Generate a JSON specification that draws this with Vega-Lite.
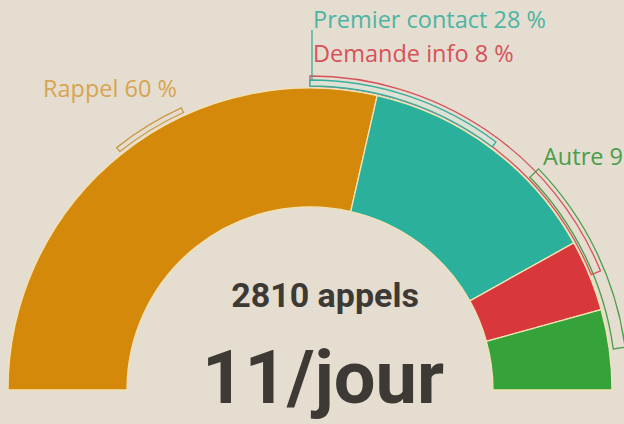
{
  "$schema": "https://vega.github.io/schema/vega-lite/v6.json",
  "width": 624,
  "height": 424,
  "autosize": "none",
  "padding": 0,
  "background": "#e5ddd0",
  "config": {"view": {"stroke": null}},
  "encoding": {
    "x": {"datum": 0, "type": "quantitative", "scale": {"domain": [-310, 314], "nice": false, "zero": false}, "axis": null},
    "y": {"datum": 0, "type": "quantitative", "scale": {"domain": [-34, 390], "nice": false, "zero": false}, "axis": null}
  },
  "layer": [
    {
      "data": {"values": [
        {"cat": "Rappel", "value": 60, "order": 1},
        {"cat": "Premier contact", "value": 28, "order": 2},
        {"cat": "Demande info", "value": 8, "order": 3},
        {"cat": "Autre", "value": 9, "order": 4}
      ]},
      "mark": {"type": "arc", "outerRadius": 302, "innerRadius": 183, "stroke": "#f3e2b4", "strokeWidth": 1.3},
      "encoding": {
        "theta": {"field": "value", "type": "quantitative", "stack": true, "scale": {"domain": [0, 105], "range": [-1.5708, 1.5708]}},
        "order": {"field": "order", "type": "quantitative"},
        "color": {"field": "cat", "type": "nominal", "legend": null,
          "scale": {"domain": ["Rappel", "Premier contact", "Demande info", "Autre"], "range": ["#d4890b", "#2bb09b", "#d8383c", "#36a23a"]}}
      }
    },
    {
      "data": {"values": [{"cat": "Autre", "start": 79.3, "end": 100.5}]},
      "mark": {"type": "arc", "outerRadius": 318, "innerRadius": 306, "fill": "transparent", "stroke": "#4a9e4a", "strokeWidth": 1.3, "clip": true},
      "encoding": {"theta": {"field": "start", "type": "quantitative"}, "theta2": {"field": "end"}}
    },
    {
      "data": {"values": [{"cat": "Demande info", "start": 52.5, "end": 92}]},
      "mark": {"type": "arc", "outerRadius": 314, "innerRadius": 304, "fill": "transparent", "stroke": "#d6525a", "strokeWidth": 1.3},
      "encoding": {"theta": {"field": "start", "type": "quantitative"}, "theta2": {"field": "end"}}
    },
    {
      "data": {"values": [{"cat": "Premier contact", "start": 52.5, "end": 74}]},
      "mark": {"type": "arc", "outerRadius": 310, "innerRadius": 304, "fill": "#dde2d4", "stroke": "#3aae9c", "strokeWidth": 1.3},
      "encoding": {"theta": {"field": "start", "type": "quantitative"}, "theta2": {"field": "end"}}
    },
    {
      "data": {"values": [{"cat": "Rappel", "start": 30, "end": 38.2}]},
      "mark": {"type": "arc", "outerRadius": 310, "innerRadius": 305, "fill": "transparent", "stroke": "#c99a45", "strokeWidth": 1.3},
      "encoding": {"theta": {"field": "start", "type": "quantitative"}, "theta2": {"field": "end"}}
    },
    {
      "data": {"values": [{"cat": "Premier contact"}]},
      "mark": {"type": "rule", "stroke": "#3aae9c", "strokeWidth": 1.3},
      "encoding": {"x": {"datum": 2, "type": "quantitative"}, "y": {"datum": 310, "type": "quantitative"}, "y2": {"datum": 360}}
    },
    {
      "data": {"values": [{"label": "Rappel 60 %"}]},
      "mark": {"type": "text", "align": "right", "baseline": "alphabetic", "font": "Open Sans", "fontSize": 23.5, "color": "#d6a552"},
      "encoding": {"x": {"datum": -133, "type": "quantitative"}, "y": {"datum": 293, "type": "quantitative"}, "text": {"field": "label"}}
    },
    {
      "data": {"values": [{"label": "Premier contact 28 %"}]},
      "mark": {"type": "text", "align": "left", "baseline": "alphabetic", "font": "Open Sans", "fontSize": 23.5, "color": "#4db4a4"},
      "encoding": {"x": {"datum": 3, "type": "quantitative"}, "y": {"datum": 362, "type": "quantitative"}, "text": {"field": "label"}}
    },
    {
      "data": {"values": [{"label": "Demande info 8 %"}]},
      "mark": {"type": "text", "align": "left", "baseline": "alphabetic", "font": "Open Sans", "fontSize": 23.5, "color": "#d6525a"},
      "encoding": {"x": {"datum": 3, "type": "quantitative"}, "y": {"datum": 328, "type": "quantitative"}, "text": {"field": "label"}}
    },
    {
      "data": {"values": [{"label": "Autre 9 %"}]},
      "mark": {"type": "text", "align": "left", "baseline": "alphabetic", "font": "Open Sans", "fontSize": 23.5, "color": "#4a9e4a", "clip": true},
      "encoding": {"x": {"datum": 233, "type": "quantitative"}, "y": {"datum": 225, "type": "quantitative"}, "text": {"field": "label"}}
    },
    {
      "data": {"values": [{"label": "2810 appels"}]},
      "mark": {"type": "text", "align": "center", "baseline": "alphabetic", "font": "Roboto", "fontWeight": "bold", "fontSize": 34, "color": "#3d3a35"},
      "encoding": {"x": {"datum": 15, "type": "quantitative"}, "y": {"datum": 83, "type": "quantitative"}, "text": {"field": "label"}}
    },
    {
      "data": {"values": [{"label": "11/jour"}]},
      "mark": {"type": "text", "align": "center", "baseline": "alphabetic", "font": "Roboto", "fontWeight": "bold", "fontSize": 74, "color": "#3d3a35"},
      "encoding": {"x": {"datum": 13, "type": "quantitative"}, "y": {"datum": -13, "type": "quantitative"}, "text": {"field": "label"}}
    }
  ]
}
